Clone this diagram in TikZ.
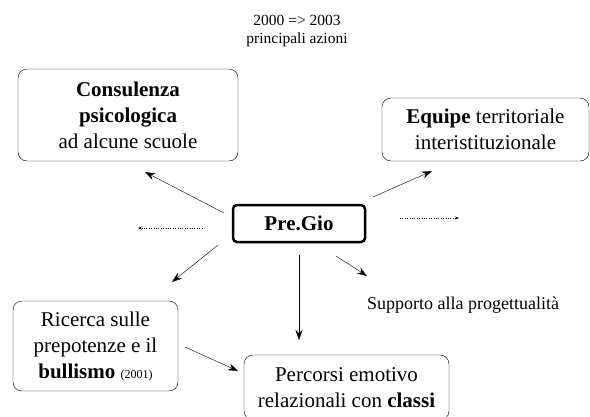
\documentclass[tikz,border=0pt]{standalone}
\usepackage{fontspec}
\setmainfont{Liberation Serif}
\usetikzlibrary{arrows.meta}
\newcommand{\bigtxt}{\fontsize{21}{26}\selectfont}

\begin{document}
\begin{tikzpicture}[x=1pt,y=1pt]
\tikzstyle{every node}+=[align=center]
\tikzstyle{azione}=[draw, rounded corners=9pt, inner sep=0pt, font=\bigtxt]
\tikzstyle{freccia}=[-{Stealth[length=10pt,width=7pt]}, thin]
\tikzstyle{puntini}=[-{Stealth[length=4pt,width=3pt]}, dotted, thin]
\useasboundingbox (0,0) rectangle (590,-416);
% titolo
\node [font=\fontsize{15.5}{18}\selectfont] (titolo) at (297,-31) {2000 => 2003\\principali azioni};
% centro
\node [draw, line width=2.5pt, rounded corners=4pt, minimum width=132pt, minimum height=37pt, font=\bigtxt\bfseries] (pregio) at (299,-223.5) {Pre.Gio};
% le azioni
\node [azione, minimum width=220pt, minimum height=92pt] (consul) at (128,-115) {\textbf{Consulenza}\\\textbf{psicologica}\\ad alcune scuole};
\node [azione, minimum width=207pt, minimum height=63pt] (equipe) at (485.5,-129.5) {\textbf{Equipe} territoriale\\interistituzionale};
\node [azione, minimum width=165pt, minimum height=90pt] (ricerca) at (95.5,-346) {Ricerca sulle\\prepotenze e il\\\textbf{bullismo} {\fontsize{12}{14}\selectfont (2001)}};
\node [azione, minimum width=205pt, minimum height=65pt] (percorsi) at (346.5,-387.5) {Percorsi emotivo\\relazionali con \textbf{classi}};
\node [font=\fontsize{18}{20}\selectfont] (supporto) at (463,-305) {Supporto alla progettualità};
% estremi delle frecce
\coordinate (a1) at (224,-213); \coordinate (b1) at (145,-172);
\coordinate (a2) at (373,-197); \coordinate (b2) at (432,-171);
\coordinate (a3) at (336,-256); \coordinate (b3) at (367,-276);
\coordinate (a4) at (218,-245); \coordinate (b4) at (172,-282);
\coordinate (a5) at (299,-255); \coordinate (b5) at (299,-340);
\coordinate (a6) at (185,-347); \coordinate (b6) at (238,-371);
\coordinate (a7) at (202,-228); \coordinate (b7) at (138,-228);
\coordinate (a8) at (400,-218); \coordinate (b8) at (459,-218);
% frecce
\draw [freccia] (a1) -- (b1);
\draw [freccia] (a2) -- (b2);
\draw [freccia] (a3) -- (b3);
\draw [freccia] (a4) -- (b4);
\draw [freccia] (a5) -- (b5);
\draw [freccia] (a6) -- (b6);
\draw [puntini] (a7) -- (b7);
\draw [puntini] (a8) -- (b8);
\end{tikzpicture}
\end{document}
